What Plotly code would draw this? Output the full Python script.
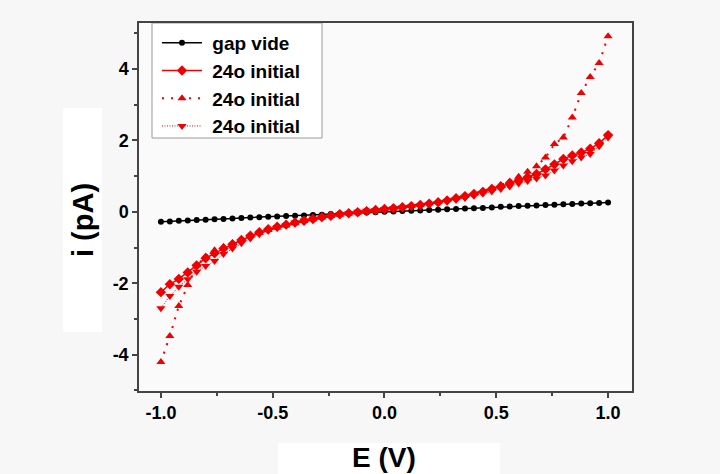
import plotly.graph_objects as go

# Applied potential (V)
potential = [-1.00, -0.96, -0.92, -0.88, -0.84, -0.80, -0.76, -0.72, -0.68, -0.64,
             -0.60, -0.56, -0.52, -0.48, -0.44, -0.40, -0.36, -0.32, -0.28, -0.24,
             -0.20, -0.16, -0.12, -0.08, -0.04, 0.00, 0.04, 0.08, 0.12, 0.16,
             0.20, 0.24, 0.28, 0.32, 0.36, 0.40, 0.44, 0.48, 0.52, 0.56,
             0.60, 0.64, 0.68, 0.72, 0.76, 0.80, 0.84, 0.88, 0.92, 0.96, 1.00]

# Current (pA) for each measurement
gap_vide = [-0.28, -0.27, -0.25, -0.24, -0.23, -0.22, -0.21, -0.20, -0.19, -0.17,
            -0.16, -0.15, -0.14, -0.13, -0.12, -0.11, -0.10, -0.09, -0.08, -0.06,
            -0.05, -0.04, -0.03, -0.02, -0.01, 0.00, 0.01, 0.02, 0.03, 0.04,
            0.05, 0.06, 0.07, 0.08, 0.09, 0.10, 0.11, 0.12, 0.14, 0.15,
            0.16, 0.17, 0.18, 0.19, 0.20, 0.21, 0.22, 0.23, 0.24, 0.25, 0.26]

initial_a = [-2.25, -2.03, -1.88, -1.70, -1.50, -1.30, -1.16, -1.03, -0.91, -0.79,
             -0.67, -0.57, -0.49, -0.42, -0.36, -0.30, -0.25, -0.20, -0.15, -0.11,
             -0.07, -0.04, -0.01, 0.02, 0.05, 0.08, 0.10, 0.13, 0.16, 0.19,
             0.23, 0.27, 0.32, 0.38, 0.44, 0.50, 0.56, 0.64, 0.71, 0.80,
             0.88, 0.97, 1.06, 1.19, 1.33, 1.48, 1.58, 1.66, 1.77, 1.92, 2.15]

initial_b = [-4.21, -3.48, -2.64, -2.05, -1.50, -1.25, -1.08, -0.98, -0.88, -0.78,
             -0.68, -0.59, -0.51, -0.44, -0.38, -0.32, -0.26, -0.21, -0.16, -0.12,
             -0.08, -0.05, -0.02, 0.01, 0.04, 0.07, 0.10, 0.13, 0.16, 0.20,
             0.24, 0.28, 0.33, 0.39, 0.45, 0.51, 0.58, 0.66, 0.75, 0.85,
             0.98, 1.12, 1.28, 1.52, 1.90, 2.08, 2.64, 3.33, 3.78, 4.17, 4.92]

initial_c = [-2.70, -2.36, -2.10, -1.89, -1.68, -1.52, -1.38, -1.18, -1.03, -0.88,
             -0.75, -0.63, -0.53, -0.44, -0.37, -0.30, -0.24, -0.19, -0.14, -0.10,
             -0.06, -0.03, 0.00, 0.03, 0.05, 0.08, 0.10, 0.12, 0.15, 0.18,
             0.21, 0.25, 0.29, 0.34, 0.39, 0.45, 0.51, 0.57, 0.64, 0.71,
             0.79, 0.86, 0.93, 1.02, 1.16, 1.30, 1.42, 1.52, 1.62, 1.84, 2.08]

RED = "#f00000"
font_family = "Liberation Sans, Arial, sans-serif"

# plot-area geometry in pixels (used to place titles and panels)
W, H = 720, 474
L, R, T, B = 139, 88, 23, 83
PW, PH = W - L - R, H - T - B


def px_x(x):
    return (x - L) / PW


def px_y(y):
    return (H - B - y) / PH


fig = go.Figure()
fig.add_trace(go.Scatter(
    x=potential, y=gap_vide, name="<b>&nbsp;gap vide</b>", mode="lines+markers",
    line=dict(color="black", width=1.5),
    marker=dict(symbol="circle", size=6, color="black")))
fig.add_trace(go.Scatter(
    x=potential, y=initial_a, name="<b>&nbsp;24o initial</b>", mode="lines+markers",
    line=dict(color=RED, width=1.5),
    marker=dict(symbol="diamond", size=8, color=RED)))
fig.add_trace(go.Scatter(
    x=potential, y=initial_b, name="<b>&nbsp;24o initial</b>", mode="lines+markers",
    line=dict(color=RED, width=2, dash="2px,7px"),
    marker=dict(symbol="triangle-up", size=8, color=RED)))
fig.add_trace(go.Scatter(
    x=potential, y=initial_c, name="<b>&nbsp;24o initial</b>", mode="lines+markers",
    line=dict(color=RED, width=1, dash="1px,1.5px"),
    marker=dict(symbol="triangle-down", size=8, color=RED)))

axis_common = dict(
    showline=True, linecolor="#444444", linewidth=1.5, mirror=True,
    showgrid=False, zeroline=False,
    ticks="outside", ticklen=5, tickwidth=1.5, tickcolor="#444444",
    tickfont=dict(family=font_family, size=18, color="black"),
)

fig.update_xaxes(
    range=[-1.098, 1.107], tickmode="array",
    tickvals=[-1.0, -0.5, 0.0, 0.5, 1.0],
    ticktext=["<b>-1.0</b>", "<b>-0.5</b>", "<b>0.0</b>", "<b>0.5</b>", "<b>1.0</b>"],
    minor=dict(tickvals=[-0.75, -0.25, 0.25, 0.75], ticklen=3, tickwidth=1.5,
               tickcolor="#444444", ticks="outside"),
    **axis_common)
fig.update_yaxes(
    range=[-5.02, 5.29], tickmode="array",
    tickvals=[-4, -2, 0, 2, 4],
    ticktext=["<b>-4</b>", "<b>-2</b>", "<b>0</b>", "<b>2</b>", "<b>4</b>"],
    minor=dict(tickvals=[-5, -3, -1, 1, 3, 5], ticklen=3, tickwidth=1.5,
               tickcolor="#444444", ticks="outside"),
    **axis_common)

fig.update_layout(
    width=W, height=H,
    margin=dict(l=L, r=R, t=T, b=B),
    paper_bgcolor="#f7f7f7", plot_bgcolor="#fafafa",
    showlegend=True,
    legend=dict(x=px_x(157), y=px_y(24), xanchor="left", yanchor="top",
                bgcolor="rgba(0,0,0,0)", borderwidth=0,
                font=dict(family=font_family, size=19, color="black"),
                tracegroupgap=0, itemwidth=40),
    annotations=[
        dict(text="<b>E (V)</b>", xref="paper", yref="paper",
             x=px_x(384), y=px_y(457), xanchor="center", yanchor="middle",
             showarrow=False, font=dict(family=font_family, size=28, color="black")),
        dict(text="<b>i (pA)</b>", xref="paper", yref="paper", textangle=-90,
             x=px_x(83), y=px_y(220), xanchor="center", yanchor="middle",
             showarrow=False, font=dict(family=font_family, size=29, color="black")),
    ],
    shapes=[
        # pale panels behind the axis titles
        dict(type="rect", xref="paper", yref="paper", layer="below",
             x0=px_x(278), x1=px_x(500), y0=px_y(474), y1=px_y(443),
             fillcolor="white", line=dict(width=0)),
        dict(type="rect", xref="paper", yref="paper", layer="below",
             x0=px_x(63), x1=px_x(102), y0=px_y(332), y1=px_y(108),
             fillcolor="white", line=dict(width=0)),
        # legend frame
        dict(type="rect", xref="paper", yref="paper", layer="below",
             x0=px_x(152), x1=px_x(322), y0=px_y(138), y1=px_y(23),
             fillcolor="white", line=dict(color="#999999", width=1)),
    ],
)

fig.write_html("out.html")
